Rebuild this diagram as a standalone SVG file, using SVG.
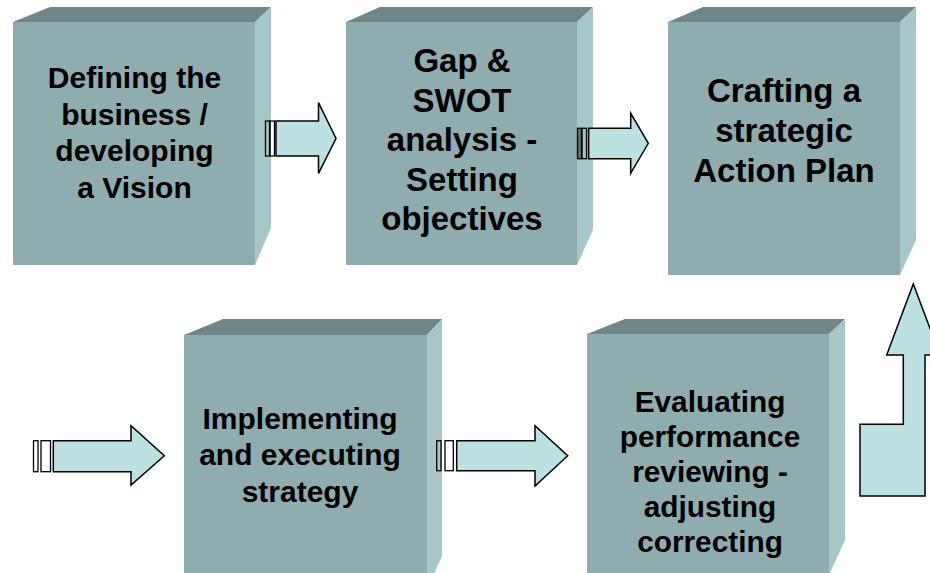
<svg xmlns="http://www.w3.org/2000/svg" width="930" height="573" viewBox="0 0 930 573">
<style>
.front{fill:#8fadae}
.top{fill:#6f8788}
.side{fill:#a7c6c8}
.arrow{fill:#bde0e3;stroke:#000;stroke-width:1.5;stroke-linejoin:miter}
.bar{fill:none;stroke:#000;stroke-width:1.3}
text{font-family:"Liberation Sans",Arial,sans-serif;font-weight:bold;fill:#000;text-anchor:middle}
.t30{font-size:30px}
.t33{font-size:33px}
.t29{font-size:29.8px}
</style>
<rect width="930" height="573" fill="#fff"/>
<g id="node1">
<polygon class="top" points="13,22 50,7 271,7 255,22"/>
<polygon class="side" points="255,22 271,7 271,228 255,265"/>
<rect class="front" x="13" y="22" width="242" height="243"/>
<text class="t30" x="134.5" y="88">Defining the</text>
<text class="t30" x="134.5" y="124.5">business /</text>
<text class="t30" x="134.5" y="161">developing</text>
<text class="t30" x="134.5" y="197.5">a Vision</text>
</g>
<g id="node2">
<polygon class="top" points="346,22 380,7 593,7 577,22"/>
<polygon class="side" points="577,22 593,7 593,230 577,265"/>
<rect class="front" x="346" y="22" width="231" height="243"/>
<text class="t33" x="462" y="72">Gap &amp;</text>
<text class="t33" x="462" y="111.5">SWOT</text>
<text class="t33" x="462" y="151">analysis -</text>
<text class="t33" x="462" y="190.5">Setting</text>
<text class="t33" x="462" y="230">objectives</text>
</g>
<g id="node3">
<polygon class="top" points="668,22 703,7 916,7 900,22"/>
<polygon class="side" points="900,22 916,7 916,240 900,275"/>
<rect class="front" x="668" y="22" width="232" height="253"/>
<text class="t33" x="784" y="101.7">Crafting a</text>
<text class="t33" x="784" y="141.7">strategic</text>
<text class="t33" x="784" y="181.7">Action Plan</text>
</g>
<g id="node4">
<polygon class="top" points="184,335 223,319 442,319 427,335"/>
<polygon class="side" points="427,335 442,319 442,556 427,590"/>
<rect class="front" x="184" y="335" width="243" height="245"/>
<text class="t30" x="300" y="428.5">Implementing</text>
<text class="t30" x="300" y="465">and executing</text>
<text class="t30" x="300" y="501.5">strategy</text>
</g>
<g id="node5">
<polygon class="top" points="587,334 625,319 845,319 829,334"/>
<polygon class="side" points="829,334 845,319 845,540 829,575"/>
<rect class="front" x="587" y="334" width="242" height="245"/>
<text class="t29" x="710" y="411.7">Evaluating</text>
<text class="t29" x="710" y="446.7">performance</text>
<text class="t29" x="710" y="481.7">reviewing -</text>
<text class="t29" x="710" y="516.7">adjusting</text>
<text class="t29" x="710" y="551.7">correcting</text>
</g>
<g id="connectors">
<g id="arrow1">
<rect class="bar" x="265.5" y="121" width="4" height="35"/>
<rect class="bar" x="270" y="121" width="4.5" height="35"/>
<polygon class="arrow" points="276,121 318.5,121 318.5,102.7 336,138.5 318.5,173.3 318.5,156 276,156"/>
</g>
<g id="arrow2">
<rect class="bar" x="577.5" y="128.3" width="4" height="30.4" style="fill:#5f7676"/>
<rect class="bar" x="582" y="128.3" width="4.5" height="30.4"/>
<polygon class="arrow" points="588.7,128.3 630.7,128.3 630.7,113.3 648.3,143.3 630.7,173.3 630.7,158.7 588.7,158.7"/>
</g>
<g id="arrow3">
<rect class="bar" x="33.5" y="440.7" width="4.5" height="31"/>
<rect class="bar" x="41" y="440.7" width="9.5" height="31"/>
<polygon class="arrow" points="53.3,440.7 131,440.7 131,425.7 164.3,455.7 131,485 131,471.7 53.3,471.7"/>
</g>
<g id="arrow4">
<rect class="bar" x="436.7" y="440.7" width="4.3" height="30"/>
<rect class="bar" x="445" y="440.7" width="8.3" height="30"/>
<polygon class="arrow" points="456.7,440.7 535,440.7 535,425.7 567.7,455.7 535,486 535,470.7 456.7,470.7"/>
</g>
<g id="arrow5">
<polygon class="arrow" points="913.3,284 940,355 925,355 925,496 860,496 860,424.3 903.3,424.3 903.3,355 886.7,355"/>
</g>
</g>
</svg>
